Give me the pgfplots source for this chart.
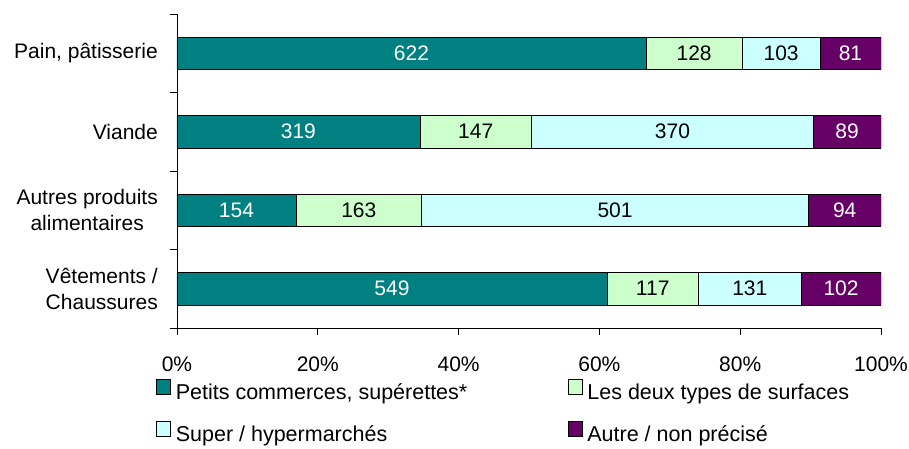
\documentclass[border=0pt]{standalone}
\usepackage{pgfplots}
\pgfplotsset{compat=1.18}
\usepackage{pgfplotstable}
\usepackage{fontspec}
\setmainfont{Liberation Sans}

\definecolor{cteal}{RGB}{0,128,128}
\definecolor{cgreen}{RGB}{204,255,204}
\definecolor{ccyan}{RGB}{204,255,255}
\definecolor{cpurple}{RGB}{102,0,102}

% y: category, pct: share of the row (%), n: count shown in the bar
\pgfplotstableread{
y pct n
0 66.60 622
1 34.49 319
2 16.89 154
3 61.07 549
}\petits
\pgfplotstableread{
y pct n
0 13.70 128
1 15.89 147
2 17.87 163
3 13.01 117
}\deux
\pgfplotstableread{
y pct n
0 11.03 103
1 40.00 370
2 54.93 501
3 14.57 131
}\hyper
\pgfplotstableread{
y pct n
0 8.67 81
1 9.62 89
2 10.31 94
3 11.35 102
}\autre

\begin{document}
\fontsize{21}{26}\selectfont
\begin{tikzpicture}
  \begin{axis}[
    scale only axis, width=704pt, height=314pt,
    xbar stacked, bar width=0.41,
    xmin=0, xmax=100, ymin=-0.5, ymax=3.5, y dir=reverse,
    axis x line*=bottom, axis y line*=left,
    axis line style={line width=0.8pt},
    tick align=outside,
    major tick length=7pt, minor tick length=7pt,
    xtick={0,20,40,60,80,100},
    xticklabels={0\%,20\%,40\%,60\%,80\%,100\%},
    xticklabel style={yshift=-15pt},
    ytick={0,1,2,3},
    yticklabels={{Pain, pâtisserie},Viande,{Autres produits\\alimentaires},{Vêtements /\\Chaussures}},
    yticklabel style={align=center, xshift=-5pt},
    major y tick style={draw=none},
    minor ytick={-0.5,0.5,1.5,2.5,3.5},
    minor y tick style={black, line width=0.8pt},
    major x tick style={black, line width=0.8pt},
    point meta=explicit symbolic,
    nodes near coords,
    nodes near coords style={anchor=center},
    every axis plot/.append style={draw=black, line width=0.6pt},
    legend columns=2,
    legend cell align=left,
    legend image code/.code={\draw[#1,draw=black,line width=0.6pt] (0pt,-1pt) rectangle (14pt,14pt); \path (17pt,0pt);},
    legend style={draw=none, fill=none, at={(rel axis cs:0,0)}, anchor=north west,
      xshift=-24pt, yshift=-49pt, row sep=16pt, font=\fontsize{21.5}{26}\selectfont},
  ]
    \addplot[fill=cteal, nodes near coords style={text=white}] table[x=pct, y=y, meta=n] {\petits};
    \addlegendentry{\makebox[390pt][l]{Petits commerces, supérettes*}}
    \addplot[fill=cgreen] table[x=pct, y=y, meta=n] {\deux};
    \addlegendentry{Les deux types de surfaces}
    \addplot[fill=ccyan] table[x=pct, y=y, meta=n] {\hyper};
    \addlegendentry{Super / hypermarchés}
    \addplot[fill=cpurple, nodes near coords style={text=white}] table[x=pct, y=y, meta=n] {\autre};
    \addlegendentry{Autre / non précisé}
  \end{axis}
  \pgfresetboundingbox
  \useasboundingbox (-177pt,-120pt) rectangle (732pt,328pt);
\end{tikzpicture}
\end{document}
